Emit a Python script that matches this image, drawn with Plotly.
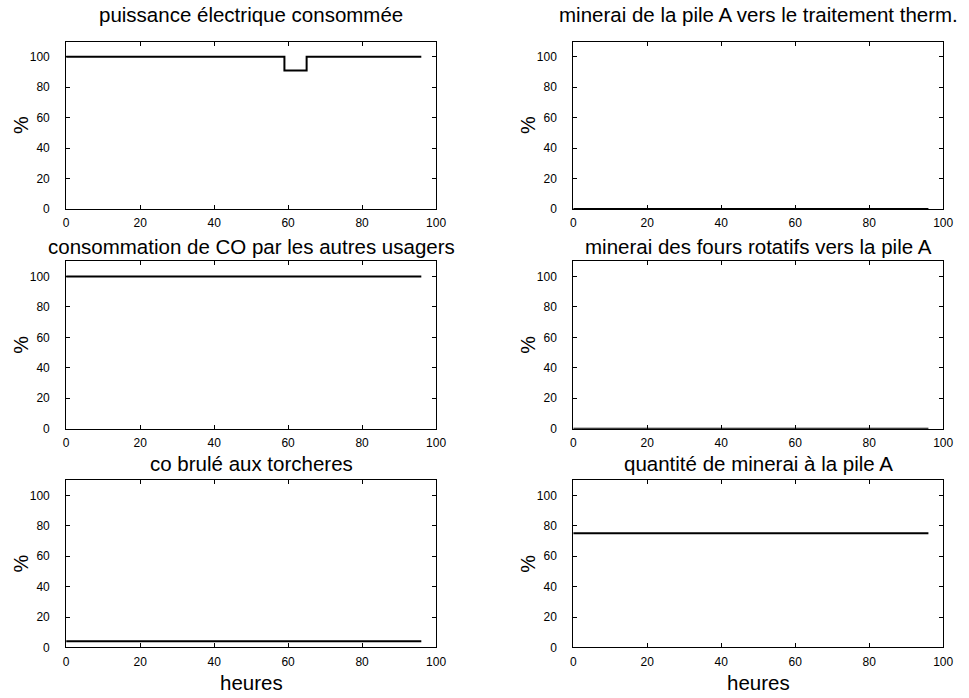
import plotly.graph_objects as go

W, H = 969, 698

# ---- data ----
titles = [
    "puissance électrique consommée",
    "minerai de la pile A vers le traitement therm.",
    "consommation de CO par les autres usagers",
    "minerai des fours rotatifs vers la pile A",
    "co brulé aux torcheres",
    "quantité de minerai à la pile A",
]
hours_power = [0, 59, 65, 96]
power = [100, 91, 100, 100]
hours_const = [0, 96]
minerai_pileA_therm = [0, 0]
co_autres = [100, 100]
minerai_fours = [0, 0]
co_torcheres = [4, 4]
quantite_pileA = [75, 75]

series = [
    (hours_power, power),
    (hours_const, minerai_pileA_therm),
    (hours_const, co_autres),
    (hours_const, minerai_fours),
    (hours_const, co_torcheres),
    (hours_const, quantite_pileA),
]

x_ticks = [0, 20, 40, 60, 80, 100]
y_ticks = [0, 20, 40, 60, 80, 100]

# ---- layout in pixels ----
cols = [(64, 439), (578, 953)]
rows = [(42, 211), (264, 433), (485, 654)]
title_y = [15, 249, 468]

FONT = "Liberation Sans, Arial, sans-serif"

fig = go.Figure()
layout = dict(
    width=W, height=H, margin=dict(l=0, r=0, t=0, b=0),
    paper_bgcolor="white", plot_bgcolor="white", showlegend=False,
    font=dict(family=FONT, color="black", size=12),
)
annotations = []

for i, (xs, ys) in enumerate(series):
    r, c = divmod(i, 2)
    k = "" if i == 0 else str(i + 1)
    x0, x1 = cols[c]
    top, bot = rows[r]
    fig.add_trace(go.Scatter(
        x=xs, y=ys, mode="lines", line=dict(color="black", width=2, shape="hv"),
        xaxis="x" + k, yaxis="y" + k, hoverinfo="skip"))
    common = dict(showgrid=False, zeroline=False, showline=True, linecolor="black",
                  linewidth=1, mirror="ticks", ticks="inside", ticklen=4,
                  tickcolor="black", tickfont=dict(size=12, family=FONT, color="black"))
    layout["xaxis" + k] = dict(domain=[x0 / W, x1 / W], range=[0, 100],
                               anchor="y" + k, tickvals=x_ticks,
                               ticklabelstandoff=3, **common)
    layout["yaxis" + k] = dict(domain=[1 - bot / H, 1 - top / H], range=[0, 110],
                               anchor="x" + k, tickvals=y_ticks,
                               ticklabelstandoff=13, **common)
    cx = (x0 + x1) / 2
    annotations.append(dict(text=titles[i], x=cx / W, y=1 - title_y[r] / H,
                            xref="paper", yref="paper", showarrow=False,
                            xanchor="center", yanchor="middle",
                            font=dict(size=20.5, family=FONT, color="black")))
    annotations.append(dict(text="%", x=(x0 - 46) / W, y=1 - ((top + bot) / 2) / H,
                            xref="paper", yref="paper", showarrow=False,
                            textangle=-90, xanchor="center", yanchor="middle",
                            font=dict(size=20, family=FONT, color="black")))
    if r == 2:
        annotations.append(dict(text="heures", x=cx / W, y=1 - 689 / H,
                                xref="paper", yref="paper", showarrow=False,
                                xanchor="center", yanchor="middle",
                                font=dict(size=20.5, family=FONT, color="black")))

layout["annotations"] = annotations
fig.update_layout(**layout)
fig.write_html("out.html")
